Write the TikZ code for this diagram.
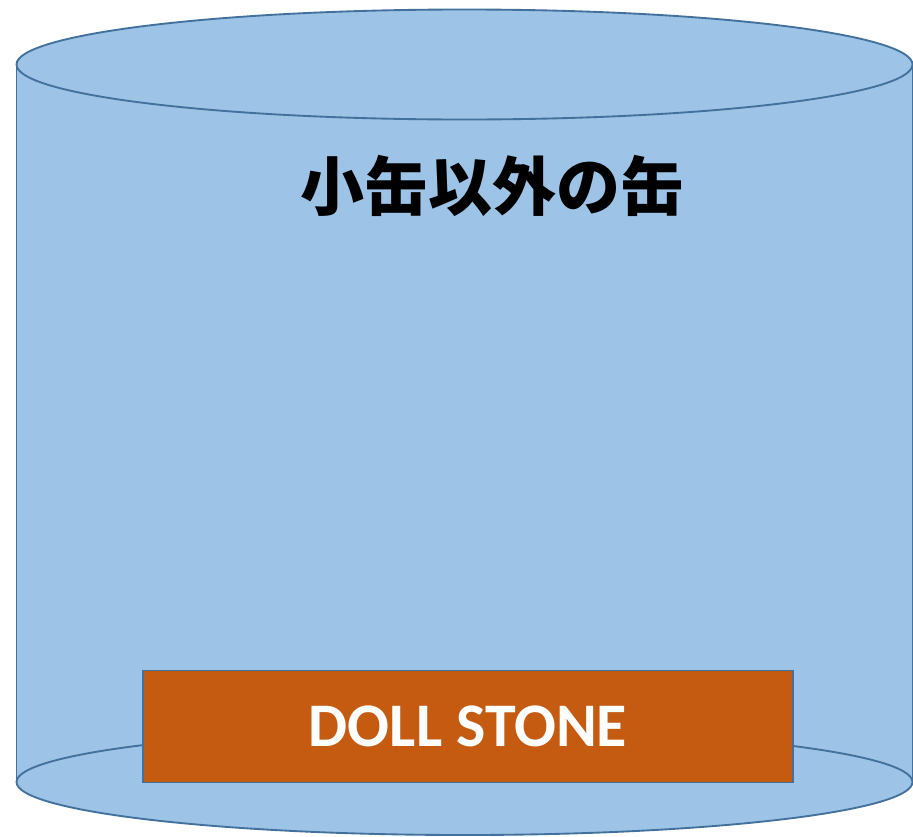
\documentclass[tikz,border=0pt]{standalone}
\usepackage{fontspec}
\setmainfont{Carlito}
\newfontfamily\cjk{Noto Sans CJK JP}
\usepackage{xcolor}
\definecolor{cCan}{HTML}{9DC3E6}
\definecolor{cEdge}{HTML}{41719C}
\definecolor{cStone}{HTML}{C55A11}
\usepackage{tikz}
\usetikzlibrary{positioning}
\tikzset{
  can-line/.style={draw=cEdge,line width=1.4pt},
  can-title/.style={font=\cjk\bfseries\fontsize{48}{50}\selectfont,text=black},
  stone-box/.style={draw=cEdge,line width=1.4pt,fill=cStone,
    minimum width=487.5pt,minimum height=84pt,inner sep=0pt,
    font=\bfseries\fontsize{46.5}{48}\selectfont,text=white},
}

\begin{document}
\begin{tikzpicture}[x=0.75pt,y=-0.75pt]
  \useasboundingbox (0,0) rectangle (913,836);
  % body of the can
  \fill[cCan] (16.5,64.5) rectangle (912.5,782);
  \filldraw[can-line,fill=cCan] (464.5,782) ellipse [x radius=448,y radius=53];
  \draw[can-line] (16.5,64.5) -- (16.5,782);
  \draw[can-line] (912.5,64.5) -- (912.5,782);
  % lid
  \filldraw[can-line,fill=cCan] (464.5,64.5) ellipse [x radius=448,y radius=55];
  \node[can-title]  (title) at (492,186)   {小缶以外の缶};
  \node[stone-box]  (stone) at (468,726.5) {DOLL STONE};
\end{tikzpicture}
\end{document}
